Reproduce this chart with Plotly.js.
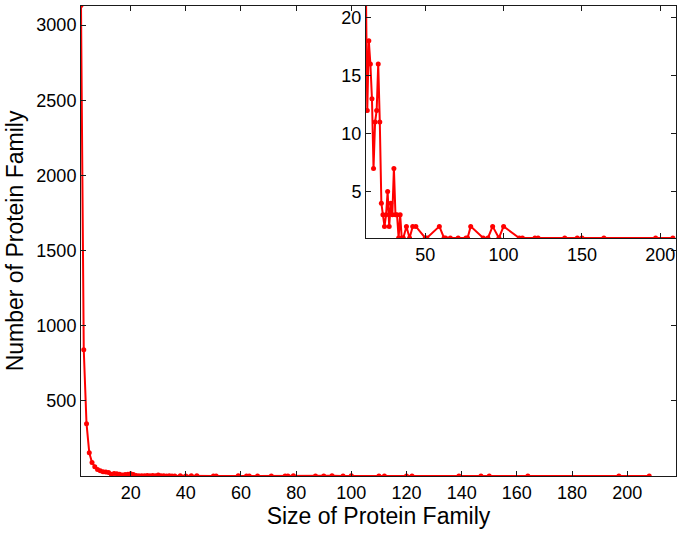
<!DOCTYPE html>
<html>
<head>
<meta charset="utf-8">
<script src="https://cdn.plot.ly/plotly-3.0.1.min.js"></script>
<style>
  html, body { margin: 0; padding: 0; background: #ffffff; }
  #chart { width: 683px; height: 533px; }
</style>
</head>
<body>
<div id="chart"></div>
<script>
// Size of protein family (x) and number of families of that size (y)
var familySizes = [
  2, 3, 4, 5, 6, 7, 8, 9, 10, 11, 12, 13, 14, 15, 16, 17, 18, 19, 20, 21,
  22, 23, 24, 25, 26, 27, 28, 29, 30, 31, 32, 33, 34, 35, 36, 38, 40, 42, 44,
  50, 51, 59, 62, 63, 66, 71, 76, 77, 79, 87, 90, 93, 97, 100, 110, 112, 120,
  122, 139, 147, 150, 164, 197, 208
];
var familyCounts = [
  3130, 840, 349, 156, 90, 63, 45, 36, 30, 27, 24, 12, 18, 16, 13, 7, 11, 12, 16, 11,
  4, 3, 2, 3, 5, 2, 4, 3, 7, 3, 3, 1, 3, 1, 1, 2, 1, 2, 2,
  1, 1, 2, 1, 1, 1, 1, 1, 1, 2, 1, 1, 2, 1, 2, 1, 1, 1,
  1, 1, 1, 1, 1, 1, 1
];

var mainXTicks = [20, 40, 60, 80, 100, 120, 140, 160, 180, 200];
var mainYTicks = [500, 1000, 1500, 2000, 2500, 3000];
var insetXTicks = [50, 100, 150, 200];
var insetYTicks = [5, 10, 15, 20];

var xTitle = 'Size of Protein Family';
var yTitle = 'Number of Protein Family';

var red = '#ff0000';
var axisColor = '#1a1a1a';
var fontFamily = '"Liberation Sans", Arial, Helvetica, sans-serif';

function series(xa, ya) {
  return {
    x: familySizes, y: familyCounts,
    type: 'scatter', mode: 'lines+markers',
    line: { color: red, width: 2 },
    marker: { color: red, size: 5 },
    xaxis: xa, yaxis: ya,
    hoverinfo: 'x+y'
  };
}

function axisStyle(extra) {
  var base = {
    showgrid: false, zeroline: false,
    showline: true, linecolor: axisColor, linewidth: 1,
    mirror: 'ticks', ticks: 'inside', ticklen: 5, tickwidth: 1, tickcolor: axisColor,
    tickmode: 'array',
    tickfont: { size: 18, color: '#000', family: fontFamily }
  };
  for (var k in extra) base[k] = extra[k];
  return base;
}

var layout = {
  width: 683, height: 533,
  margin: { l: 81, r: 7, t: 6, b: 57, pad: 0 },
  paper_bgcolor: '#ffffff', plot_bgcolor: '#ffffff',
  showlegend: false,
  font: { family: fontFamily, color: '#000', size: 18 },
  xaxis: axisStyle({
    domain: [0, 1], anchor: 'y', range: [2, 217.7], tickvals: mainXTicks,
    title: { text: xTitle, font: { size: 23, family: fontFamily, color: '#000' }, standoff: 4 }
  }),
  yaxis: axisStyle({
    domain: [0, 1], anchor: 'x', range: [1, 3127], tickvals: mainYTicks,
    title: { text: yTitle, font: { size: 23, family: fontFamily, color: '#000' }, standoff: 6 }
  }),
  xaxis2: axisStyle({
    domain: [0.479, 1], anchor: 'y2', range: [12.2, 210], tickvals: insetXTicks
  }),
  yaxis2: axisStyle({
    domain: [0.5064, 1], anchor: 'x2', range: [1, 21], tickvals: insetYTicks
  })
};

Plotly.newPlot('chart', [series('x', 'y'), series('x2', 'y2')], layout, { displayModeBar: false, staticPlot: true });
</script>
</body>
</html>
